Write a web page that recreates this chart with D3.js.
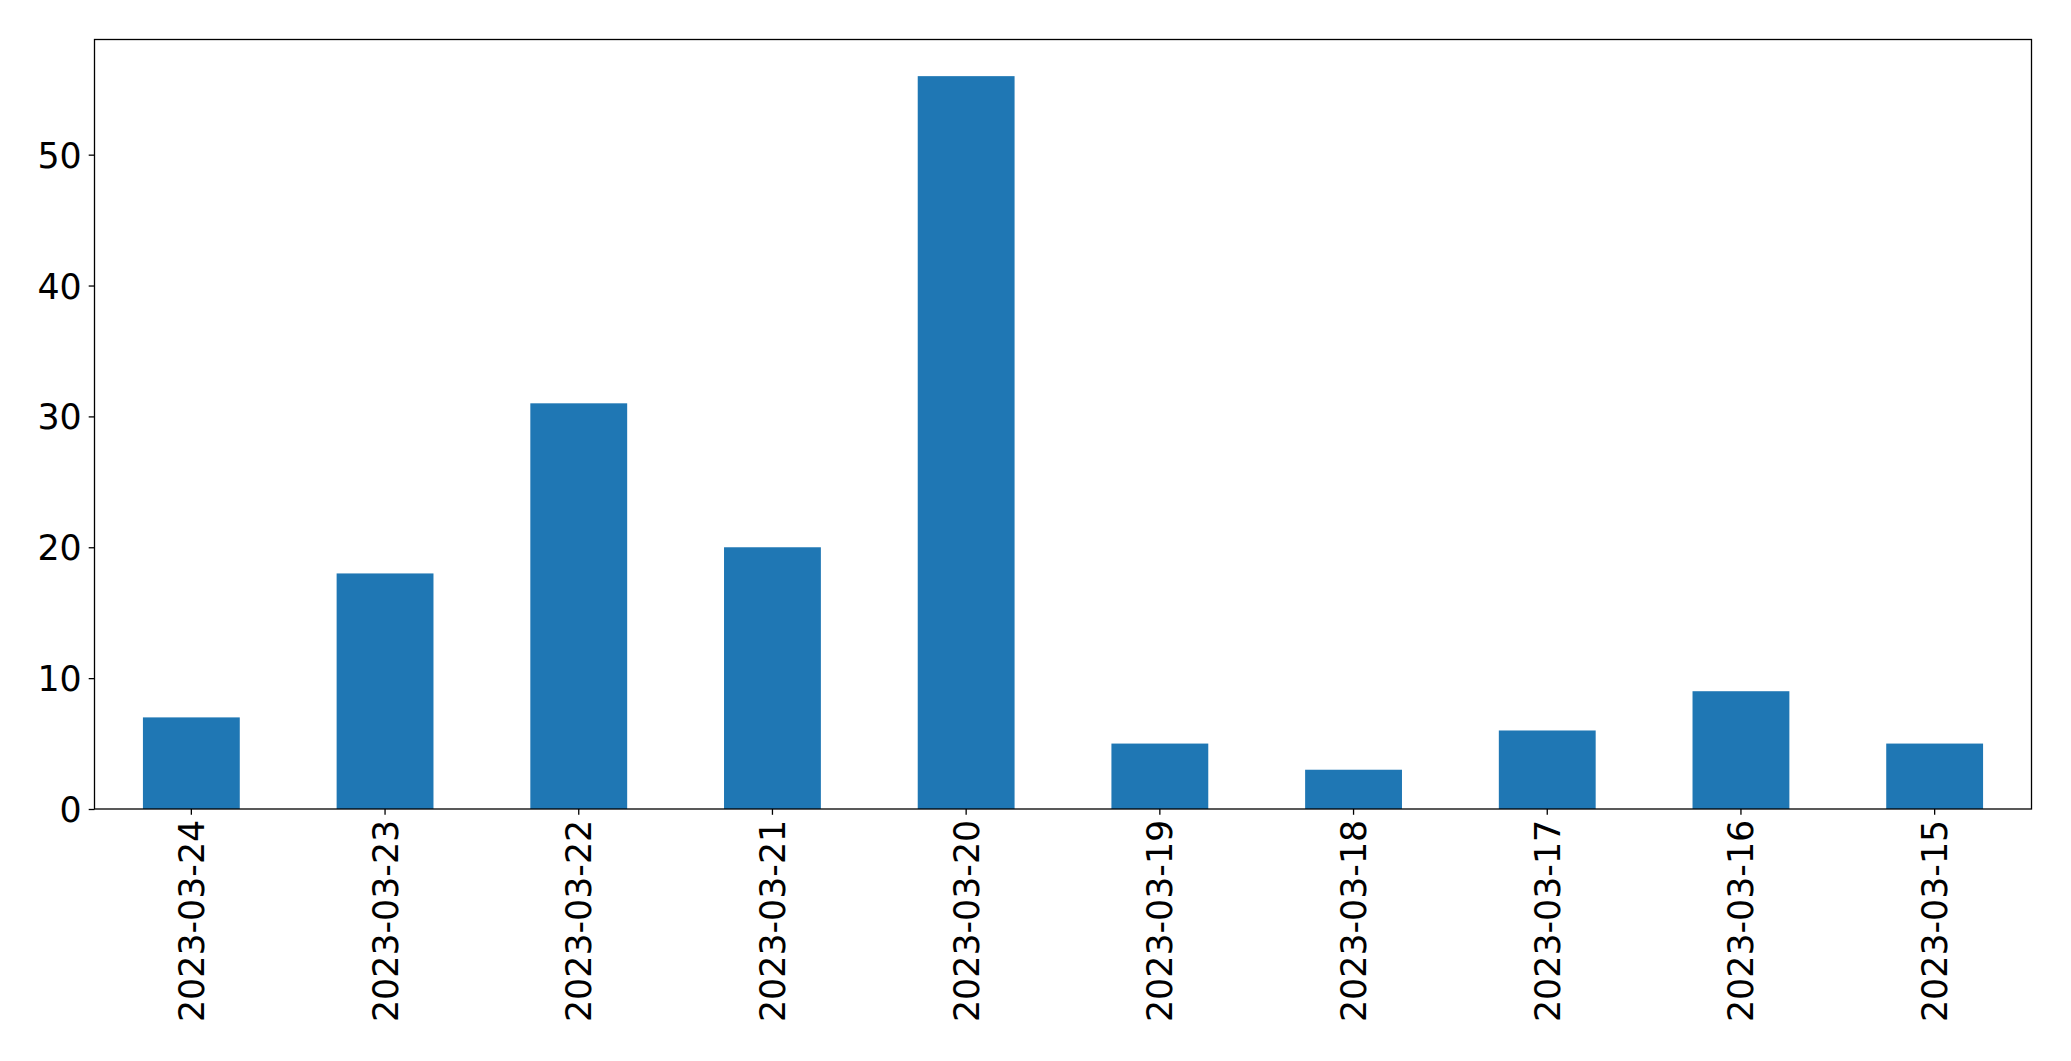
<!DOCTYPE html>
<html>
<head>
<meta charset="utf-8">
<script src="https://cdn.jsdelivr.net/npm/d3@7"></script>
<style>
html, body { margin: 0; padding: 0; background: #fff; }
svg { display: block; }
</style>
</head>
<body>
<script>
const categories = ["2023-03-24","2023-03-23","2023-03-22","2023-03-21","2023-03-20","2023-03-19","2023-03-18","2023-03-17","2023-03-16","2023-03-15"];
const values = [7, 18, 31, 20, 56, 5, 3, 6, 9, 5];
const yTicks = [0, 10, 20, 30, 40, 50];

const W = 2071, H = 1061;
const margin = {left: 94.5, right: W - 2031.5, top: 39.5, bottom: H - 809};
const fontSize = 34.8;
const tickLen = 5.8, pad = 5;

const svg = d3.select("body").append("svg").attr("width", W).attr("height", H);
const pw = W - margin.left - margin.right, ph = H - margin.top - margin.bottom;
const g = svg.append("g").attr("transform", `translate(${margin.left},${margin.top})`);

const x = d3.scaleBand().domain(categories).range([0, pw]).paddingInner(0.5).paddingOuter(0.25);
const yMax = d3.max(values) * 1.05;
const y = d3.scaleLinear().domain([0, yMax]).range([ph, 0]);

g.selectAll("rect.bar").data(values).join("rect")
  .attr("class", "bar")
  .attr("x", (d, i) => x(categories[i]))
  .attr("width", x.bandwidth())
  .attr("y", d => y(d))
  .attr("height", d => ph - y(d))
  .attr("fill", "#1f77b4");

const yAxis = g.append("g").call(d3.axisLeft(y).tickValues(yTicks).tickSize(tickLen).tickPadding(7).tickFormat(d3.format("d")));
const xAxis = g.append("g").attr("transform", `translate(0,${ph})`).call(d3.axisBottom(x).tickSize(tickLen).tickPadding(pad));

[yAxis, xAxis].forEach(a => {
  a.select(".domain").remove();
  a.selectAll(".tick line").attr("stroke", "#000").attr("stroke-width", 1.3);
  a.selectAll("text").attr("fill", "#000").style("font-family", "'DejaVu Sans', sans-serif").style("font-size", fontSize + "px");
});
yAxis.selectAll("text").attr("dy", "0.36em");
xAxis.selectAll("text")
  .attr("transform", `translate(0,${tickLen + pad}) rotate(-90)`)
  .attr("x", 0).attr("y", 0).attr("dy", "0.36em")
  .attr("text-anchor", "end");

g.append("rect").attr("x", 0).attr("y", 0).attr("width", pw).attr("height", ph)
  .attr("fill", "none").attr("stroke", "#000").attr("stroke-width", 1.3);
</script>
</body>
</html>
